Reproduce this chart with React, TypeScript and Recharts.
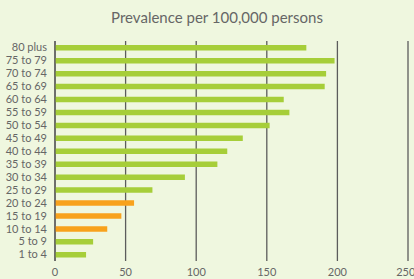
import React from "react";
import { BarChart, Bar, XAxis, YAxis, CartesianGrid, Cell } from "recharts";

const ageGroups = [
  "80 plus", "75 to 79", "70 to 74", "65 to 69", "60 to 64", "55 to 59",
  "50 to 54", "45 to 49", "40 to 44", "35 to 39", "30 to 34", "25 to 29",
  "20 to 24", "15 to 19", "10 to 14", "5 to 9", "1 to 4",
];
const prevalence = [178, 198, 192, 191, 162, 166, 152, 133, 122, 115, 92, 69, 56, 47, 37, 27, 22];
const highlighted = ["20 to 24", "15 to 19", "10 to 14"];
const xTicks = [0, 50, 100, 150, 200, 250];
const title = "Prevalence per 100,000 persons";

const GREEN = "#a6ce39";
const ORANGE = "#f8a21c";
const BG = "#eff7df";
const TEXT = "#666666";

const data = ageGroups.map((g, i) => ({ group: g, value: prevalence[i] }));

export default function App() {
  return (
    <div style={{ position: "fixed", left: 0, top: 0, width: 414, height: 279, background: BG, fontFamily: "Lato, sans-serif" }}>
      <div style={{ position: "absolute", top: 8, left: 0, width: 434, textAlign: "center", fontSize: 15, color: TEXT, lineHeight: "18px" }}>
        {title}
      </div>
      <BarChart
        width={414}
        height={279}
        data={data}
        layout="vertical"
        margin={{ top: 41, right: 6, bottom: 0, left: 0 }}
        barSize={5.5}
      >
        <CartesianGrid horizontal={false} vertical={true} stroke="#5c5c5c" strokeWidth={1.3} />
        <XAxis
          type="number"
          domain={[0, 250]}
          ticks={xTicks}
          axisLine={false}
          tickLine={false}
          tickSize={5}
          height={18}
          tick={{ fill: TEXT, fontSize: 11, fontFamily: "Lato, sans-serif" }}
        />
        <YAxis
          type="category"
          dataKey="group"
          width={55}
          axisLine={{ stroke: "#5c5c5c", strokeWidth: 1.3 }}
          tickLine={false}
          interval={0}
          tick={{ fill: TEXT, fontSize: 11, fontFamily: "Lato, sans-serif" }}
        />
        <Bar dataKey="value" isAnimationActive={false}>
          {data.map((d) => (
            <Cell key={d.group} fill={highlighted.includes(d.group) ? ORANGE : GREEN} />
          ))}
        </Bar>
      </BarChart>
    </div>
  );
}
